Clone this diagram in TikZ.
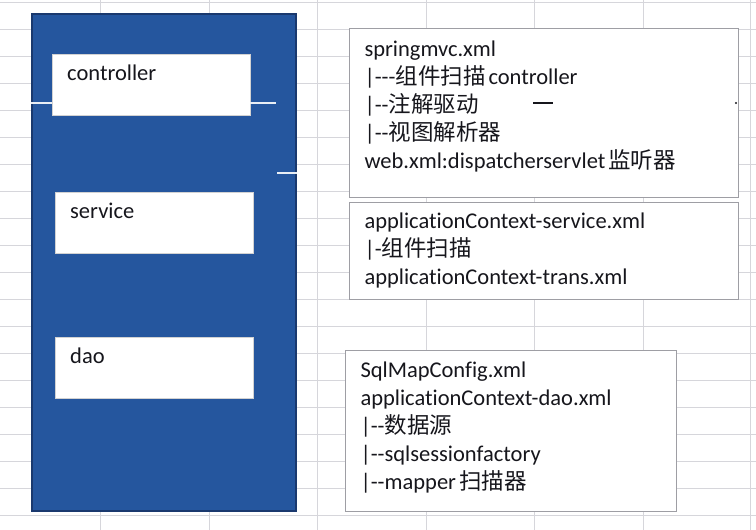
\documentclass[tikz,border=0pt]{standalone}
\usepackage{fontspec}
\setmainfont{Carlito}[Ligatures={TeXOff,NoCommon}]
\newfontfamily\cjk{Noto Sans CJK SC}
\newcommand{\zh}[1]{{\cjk #1}}
\usetikzlibrary{positioning}
\definecolor{layerblue}{RGB}{37,86,158}
\definecolor{layeredge}{RGB}{26,57,110}
\definecolor{gridgray}{RGB}{214,214,219}
\definecolor{framegray}{RGB}{158,158,164}
\definecolor{inkdark}{RGB}{22,22,28}
\tikzset{
  panel/.style={
    rectangle, anchor=north west, inner sep=0pt,
    draw=layeredge, line width=1.8pt, fill=layerblue
  },
  layer/.style={
    rectangle, anchor=north west, draw=gray!35, fill=white,
    inner xsep=15pt, inner ysep=0pt, text width=168pt, align=left,
    text height=26pt, text depth=35pt,
    font=\fontsize{22.5}{28}\selectfont, text=inkdark
  },
  confbox/.style={
    rectangle, anchor=north west, draw=framegray, line width=1pt,
    fill=white, inner xsep=15pt, inner ysep=0pt, align=left,
    font=\fontsize{22.5}{28}\selectfont, text=inkdark
  },
  gridline/.style={draw=gridgray, line width=0.9pt},
  link/.style={draw=white!90!layerblue, line width=1.6pt},
  tick/.style={draw=inkdark, line width=1.4pt}
}

\begin{document}
\begin{tikzpicture}[x=1pt, y=-1pt]
  \useasboundingbox (0,0) rectangle (756,530);
  \fill[white] (0,0) rectangle (756,530);

  % ── Sheet grid ───────────────────────────────────────────────────
  \foreach \gx in {100,209,317,426,534,643,750}
    \draw[gridline] (\gx,0) -- (\gx,530);
  \foreach \gy in {2,29,...,515}
    \draw[gridline] (0,\gy) -- (756,\gy);

  % ── Layers ───────────────────────────────────────────────────────
  \node[panel, minimum width=264pt, minimum height=497pt] (stack)
    at (31, 13) {};
  \node[layer] (ctrl) at (52, 54)  {controller};
  \node[layer] (svc)  at (55, 192) {service};
  \node[layer] (dao)  at (55, 337) {dao};

  % ── Config notes ─────────────────────────────────────────────────
  \node[confbox, text width=359pt, text height=28pt, text depth=141pt] (mvccfg)
    at (349, 28) {springmvc.xml\\
      |---\zh{组件扫描}\hspace{3pt}controller\\
      |--\zh{注解驱动}\\
      |--\zh{视图解析器}\\
      web.xml:dispatcherservlet\hspace{3pt}\zh{监听器}};
  \node[confbox, text width=359pt, text height=26pt, text depth=71pt] (svccfg)
    at (349, 202) {applicationContext-service.xml\\
      |-\zh{组件扫描}\\
      applicationContext-trans.xml};
  \node[confbox, text width=301pt, text height=27pt, text depth=134pt] (daocfg)
    at (345, 350) {SqlMapConfig.xml\\
      applicationContext-dao.xml\\
      |--\zh{数据源}\\
      |--sqlsessionfactory\\
      |--mapper\hspace{3pt}\zh{扫描器}};

  % ── Connectors ───────────────────────────────────────────────────
  \coordinate (tapL) at (31, 103);
  \coordinate (tapR) at (276, 103);
  \coordinate (tapS) at (277, 173);
  \coordinate (dashA) at (533, 103);
  \coordinate (dashB) at (553, 103);
  \draw[link] (tapL) -- (tapL -| ctrl.west);
  \draw[link] (tapR -| ctrl.east) -- (tapR);
  \draw[link] (tapS) -- (tapS -| stack.east);
  \draw[tick] (dashA) -- (dashB);
  \fill[inkdark] (dashB -| mvccfg.east) ++(-3,0) circle (1.1pt);
\end{tikzpicture}
\end{document}
